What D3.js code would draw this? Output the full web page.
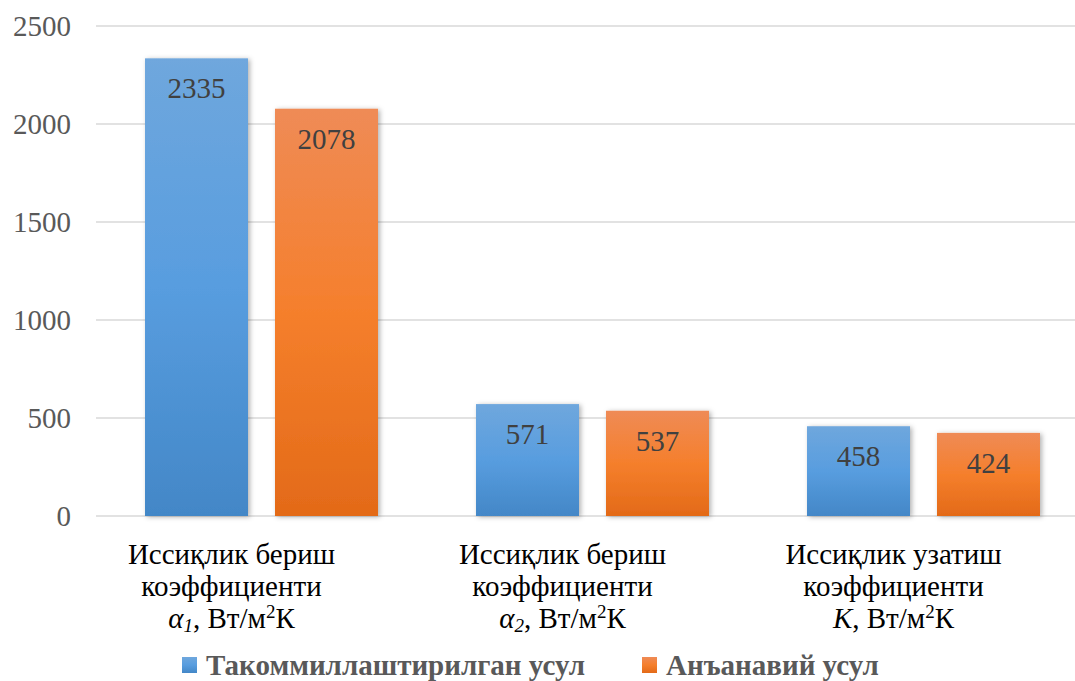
<!DOCTYPE html>
<html>
<head>
<meta charset="utf-8">
<script src="https://d3js.org/d3.v7.min.js"></script>
<style>
  html, body { margin: 0; padding: 0; background: #fff; }
  svg { display: block; }
  svg text { font-family: 'Liberation Serif', 'Tinos', 'DejaVu Serif', 'Times New Roman', serif; }
</style>
</head>
<body>
<div id="chart"></div>
<script>
// chart data
const categories = ['alpha1', 'alpha2', 'K'];
const seriesNames = ['Такоммиллаштирилган усул', 'Анъанавий усул'];
const improved = [2335, 571, 458];
const traditional = [2078, 537, 424];
const yTicks = [0, 500, 1000, 1500, 2000, 2500];

const width = 1075, height = 681;
const svg = d3.select('#chart').append('svg')
  .attr('width', width)
  .attr('height', height);

const defs = svg.append('defs');
const gradStops = [
  ['grad-blue', ['#6fa7dd', '#589ddf', '#4387c7']],
  ['grad-orange', ['#ef8b56', '#f57f2c', '#e36a18']]
];
gradStops.forEach(([id, cols]) => {
  const g = defs.append('linearGradient').attr('id', id)
    .attr('x1', 0).attr('y1', 0).attr('x2', 0).attr('y2', 1);
  g.append('stop').attr('offset', '0%').attr('stop-color', cols[0]);
  g.append('stop').attr('offset', '50%').attr('stop-color', cols[1]);
  g.append('stop').attr('offset', '100%').attr('stop-color', cols[2]);
});
defs.append('filter').attr('id', 'shadow')
  .attr('x', '-20%').attr('y', '-10%').attr('width', '140%').attr('height', '120%')
  .append('feDropShadow')
  .attr('dx', 2).attr('dy', 1).attr('stdDeviation', 2.5)
  .attr('flood-color', '#000').attr('flood-opacity', 0.3);

const x0 = d3.scaleBand().domain(categories).range([96, 1089]).padding(0);
const x1 = d3.scaleBand().domain(seriesNames).range([0, x0.bandwidth()])
  .paddingInner(0.2077).paddingOuter(0.377);
const y = d3.scaleLinear().domain([0, 2500]).range([516, 26]);

// gridlines
svg.append('g')
  .selectAll('line')
  .data(yTicks)
  .enter()
  .append('line')
  .attr('x1', 96).attr('x2', width)
  .attr('y1', d => y(d)).attr('y2', d => y(d))
  .attr('stroke', '#d9d9d9')
  .attr('stroke-width', 1.3);

// y axis labels
svg.append('g')
  .selectAll('text')
  .data(yTicks)
  .enter()
  .append('text')
  .attr('x', 71)
  .attr('y', d => y(d))
  .attr('dy', '0.35em')
  .attr('text-anchor', 'end')
  .attr('font-size', 29)
  .attr('fill', '#595959')
  .text(d => d);

// bars
const series = [
  { name: seriesNames[0], values: improved, fill: 'url(#grad-blue)' },
  { name: seriesNames[1], values: traditional, fill: 'url(#grad-orange)' }
];

const groups = svg.append('g')
  .selectAll('g')
  .data(categories)
  .enter()
  .append('g')
  .attr('transform', d => `translate(${x0(d)},0)`);

groups.selectAll('rect')
  .data((d, i) => series.map(s => ({ name: s.name, value: s.values[i], fill: s.fill })))
  .enter()
  .append('rect')
  .attr('x', d => x1(d.name))
  .attr('y', d => y(d.value))
  .attr('width', x1.bandwidth())
  .attr('height', d => y(0) - y(d.value))
  .attr('fill', d => d.fill)
  .attr('filter', 'url(#shadow)');

groups.selectAll('text.val')
  .data((d, i) => series.map(s => ({ name: s.name, value: s.values[i] })))
  .enter()
  .append('text')
  .attr('class', 'val')
  .attr('x', d => x1(d.name) + x1.bandwidth() / 2)
  .attr('y', d => y(d.value) + 40)
  .attr('text-anchor', 'middle')
  .attr('font-size', 29)
  .attr('fill', '#404040')
  .text(d => d.value);

// category labels (sit a little left of the bar pair, as in the source)
const catLines = {
  alpha1: ['Иссиқлик бериш', 'коэффициенти', ['α', '1']],
  alpha2: ['Иссиқлик бериш', 'коэффициенти', ['α', '2']],
  K: ['Иссиқлик узатиш', 'коэффициенти', ['K', null]]
};

categories.forEach(c => {
  const cx = x0(c) + x0.bandwidth() / 2 - 30;
  const lines = catLines[c];
  const t = svg.append('g')
    .attr('font-size', 29)
    .attr('fill', '#000')
    .attr('text-anchor', 'middle');
  t.append('text').attr('x', cx).attr('y', 564).text(lines[0]);
  t.append('text').attr('x', cx).attr('y', 596).text(lines[1]);
  const l3 = t.append('text').attr('x', cx).attr('y', 628);
  const sym = lines[2];
  l3.append('tspan').attr('font-style', 'italic').text(sym[0]);
  if (sym[1]) {
    l3.append('tspan').attr('font-style', 'italic')
      .attr('font-size', 19).attr('dy', 4).text(sym[1]);
    l3.append('tspan').attr('dy', -4).text(', Вт/м');
  } else {
    l3.append('tspan').text(', Вт/м');
  }
  l3.append('tspan').attr('font-size', 19).attr('dy', -10).text('2');
  l3.append('tspan').attr('dy', 10).text('К');
});

// legend
const legendItems = [
  { name: seriesNames[0], fill: 'url(#grad-blue)', x: 182 },
  { name: seriesNames[1], fill: 'url(#grad-orange)', x: 642 }
];
const legend = svg.append('g')
  .selectAll('g')
  .data(legendItems)
  .enter()
  .append('g')
  .attr('transform', d => `translate(${d.x},657)`);

legend.append('rect')
  .attr('width', 15).attr('height', 16)
  .attr('fill', d => d.fill);

legend.append('text')
  .attr('x', 24)
  .attr('y', 18)
  .attr('font-weight', 'bold')
  .attr('font-size', 29)
  .attr('fill', '#595959')
  .text(d => d.name);
</script>
</body>
</html>
